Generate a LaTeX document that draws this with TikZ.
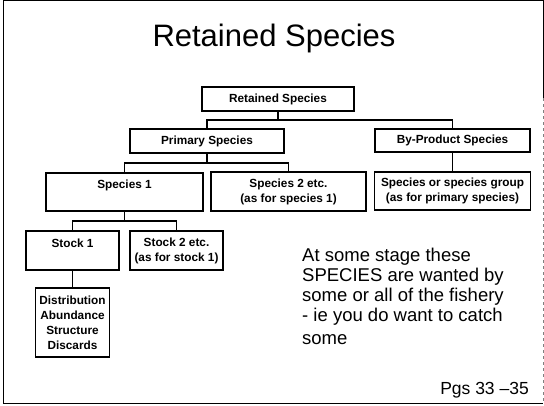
\documentclass[tikz,border=0pt]{standalone}
\usepackage{fontspec}
\setmainfont{Liberation Sans}
\begin{document}
\begin{tikzpicture}[x=1pt,y=-1pt,
  box/.style={draw=black, line width=1.3pt, inner sep=0pt, align=center,
    font=\bfseries\fontsize{11.8}{15}\selectfont},
  conn/.style={line width=1.3pt},
  frame/.style={line width=1pt}]
\useasboundingbox (0,0) rectangle (544,405);
% frame
\draw[frame] (543,98) -- (543,0.5) -- (3.5,0.5) -- (3.5,403) -- (543,403);
\draw[line width=0.6pt, gray, dashed] (543,98) -- (543,403);
% title
\node[anchor=base, font=\fontsize{31}{36}\selectfont, inner sep=0pt] (title) at (274,46) {Retained Species};
% boxes
\node[box, minimum width=152pt, minimum height=24pt] (R) at (278,99) {Retained Species};
\node[box, minimum width=154pt, minimum height=24pt] (P) at (207,141) {Primary Species};
\node[box, minimum width=155pt, minimum height=23pt] (B) at (452.5,140.5) {By-Product Species};
\node[box, minimum width=157pt, minimum height=38pt] (S1) at (124.5,192) {Species 1\\\mbox{}};
\node[box, minimum width=155pt, minimum height=39pt] (S2) at (288.5,191.5) {Species 2 etc.\\(as for species 1)};
\node[box, minimum width=156pt, minimum height=38pt] (G) at (452.5,191) {Species or species group\\(as for primary species)};
\node[box, minimum width=93pt, minimum height=39pt] (St1) at (72.5,250.5) {Stock 1\\\mbox{}};
\node[box, minimum width=93pt, minimum height=39pt] (St2) at (176.5,250.5) {Stock 2 etc.\\(as for stock 1)};
\node[box, minimum width=74pt, minimum height=69pt] (D) at (72.5,322.5) {Distribution\\Abundance\\Structure\\Discards};
% bus coordinates
\coordinate (bus1) at (278,120);
\coordinate (bus2) at (207,163);
\coordinate (bus3) at (124.5,221);
% connectors
\draw[conn] (R.south) -- (bus1);
\draw[conn] (P.north) |- (bus1) -| (B.north);
\draw[conn] (P.south) -- (bus2);
\draw[conn] (S1.north) |- (bus2) -| (S2.north);
\draw[conn] (B.south) -- (G.north);
\draw[conn] (S1.south) -- (bus3);
\draw[conn] (St1.north) |- (bus3) -| (St2.north);
\draw[conn] (St1.south) -- (D.north);
% side text
\node[anchor=north west, align=left, inner sep=0pt, font=\fontsize{18.5}{20}\selectfont] (note) at (302,248)
  {At some stage these\\SPECIES are wanted by\\some or all of the fishery\\- ie you do want to catch\\[3pt]some};
\node[anchor=base east, inner sep=0pt, font=\fontsize{17.5}{20}\selectfont] (pgs) at (529,394) {Pgs 33 --35};
\end{tikzpicture}
\end{document}
